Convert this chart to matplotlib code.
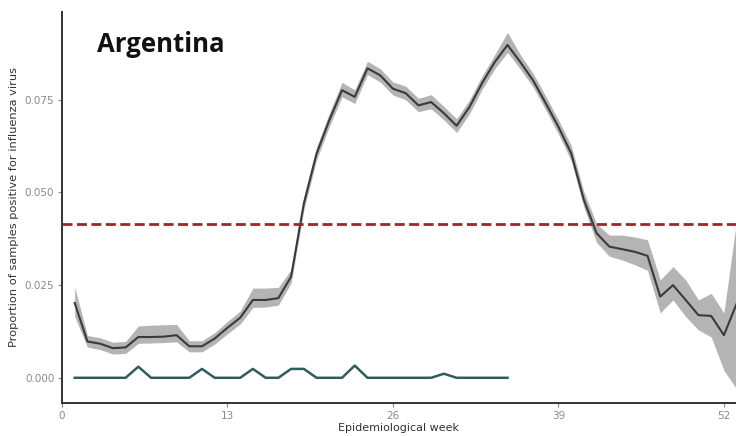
#!/usr/bin/env python3
"""Weekly proportion of influenza-positive samples, Argentina."""

import matplotlib
matplotlib.use('Agg')
import matplotlib.pyplot as plt
import numpy as np

# Data
weeks = list(range(1, 54))
prop = [0.0202, 0.0098, 0.0092, 0.0080, 0.0082, 0.0110, 0.0110, 0.0111, 0.0115, 0.0085,
        0.0085, 0.0106, 0.0135, 0.0162, 0.0210, 0.0210, 0.0215, 0.0273, 0.0470, 0.0605,
        0.0695, 0.0776, 0.0758, 0.0835, 0.0816, 0.0780, 0.0768, 0.0735, 0.0744, 0.0714,
        0.0680, 0.0730, 0.0795, 0.0852, 0.0898, 0.0852, 0.0803, 0.0741, 0.0677, 0.0606,
        0.0480, 0.0390, 0.0354, 0.0347, 0.0340, 0.0329, 0.0219, 0.0250, 0.0210, 0.0169,
        0.0167, 0.0115, 0.0200]
lower = [0.0165, 0.0083, 0.0076, 0.0064, 0.0066, 0.0093, 0.0094, 0.0095, 0.0097, 0.0070,
         0.0070, 0.0091, 0.0119, 0.0145, 0.0190, 0.0191, 0.0196, 0.0256, 0.0453, 0.0588,
         0.0678, 0.0758, 0.0740, 0.0818, 0.0798, 0.0763, 0.0750, 0.0718, 0.0726, 0.0696,
         0.0662, 0.0712, 0.0778, 0.0834, 0.0878, 0.0833, 0.0785, 0.0723, 0.0658, 0.0586,
         0.0460, 0.0365, 0.0328, 0.0318, 0.0305, 0.0290, 0.0175, 0.0210, 0.0165, 0.0129,
         0.0110, 0.0020, -0.0030]
upper = [0.0245, 0.0114, 0.0108, 0.0096, 0.0098, 0.0140, 0.0142, 0.0143, 0.0144, 0.0100,
         0.0100, 0.0122, 0.0152, 0.0180, 0.0242, 0.0242, 0.0244, 0.0292, 0.0487, 0.0622,
         0.0714, 0.0797, 0.0777, 0.0854, 0.0834, 0.0798, 0.0787, 0.0754, 0.0764, 0.0732,
         0.0699, 0.0749, 0.0814, 0.0872, 0.0932, 0.0872, 0.0822, 0.0760, 0.0696, 0.0627,
         0.0502, 0.0415, 0.0385, 0.0385, 0.0380, 0.0372, 0.0264, 0.0300, 0.0264, 0.0210,
         0.0228, 0.0175, 0.0425]

green_weeks = list(range(1, 36))
green_vals = [0, 0, 0, 0, 0, 0.0030, 0, 0, 0, 0,
              0.0024, 0, 0, 0, 0.0024, 0, 0, 0.0024, 0.0024, 0,
              0, 0, 0.0033, 0, 0, 0, 0, 0, 0, 0.0011,
              0, 0, 0, 0, 0]

threshold = 0.0415

xticks = [0, 13, 26, 39, 52]
yticks = [0.0, 0.025, 0.050, 0.075]
ytick_labels = ['0.000', '0.025', '0.050', '0.075']

C = {
    'band': '#b4b4b4',
    'line': '#3a3a3a',
    'green': '#2f5d5a',
    'red': '#a32424',
    'spine': '#333333',
    'tick': '#8a8a8a',
}

plt.rcParams['font.family'] = ['DejaVu Sans']

fig = plt.figure(figsize=(7.36, 4.36), dpi=100)
ax = fig.add_axes([0.0842, 0.0757, 0.9158, 0.8968])

ax.fill_between(weeks, lower, upper, color=C['band'], linewidth=0, zorder=1)
ax.plot(weeks, prop, color=C['line'], linewidth=1.5, zorder=2)
ax.plot(green_weeks, green_vals, color=C['green'], linewidth=1.8, zorder=3)
ax.axhline(threshold, color=C['red'], linewidth=2.0, dashes=(3.6, 1.6), zorder=4)

ax.set_xlim(0, 52.95)
ax.set_ylim(-0.0068, 0.0987)
ax.set_xticks(xticks)
ax.set_yticks(yticks)
ax.set_yticklabels(ytick_labels)
ax.tick_params(axis='both', colors=C['tick'], labelsize=7.5, length=3, width=0.8, pad=2.5)

for side in ['top', 'right']:
    ax.spines[side].set_visible(False)
for side in ['left', 'bottom']:
    ax.spines[side].set_color(C['spine'])
    ax.spines[side].set_linewidth(1.4)

ax.set_xlabel('Epidemiological week', fontsize=8, color='#333333', labelpad=2)
ax.set_ylabel('Proportion of samples positive for influenza virus', fontsize=8.2,
              color='#333333', labelpad=4)

ax.text(2.75, 0.0879, 'Argentina', fontsize=18.5, fontweight='bold', color='#111111',
        family=['Open Sans', 'DejaVu Sans'], ha='left', va='baseline')

fig.savefig('out.png', dpi=100, facecolor='white')
plt.close()
